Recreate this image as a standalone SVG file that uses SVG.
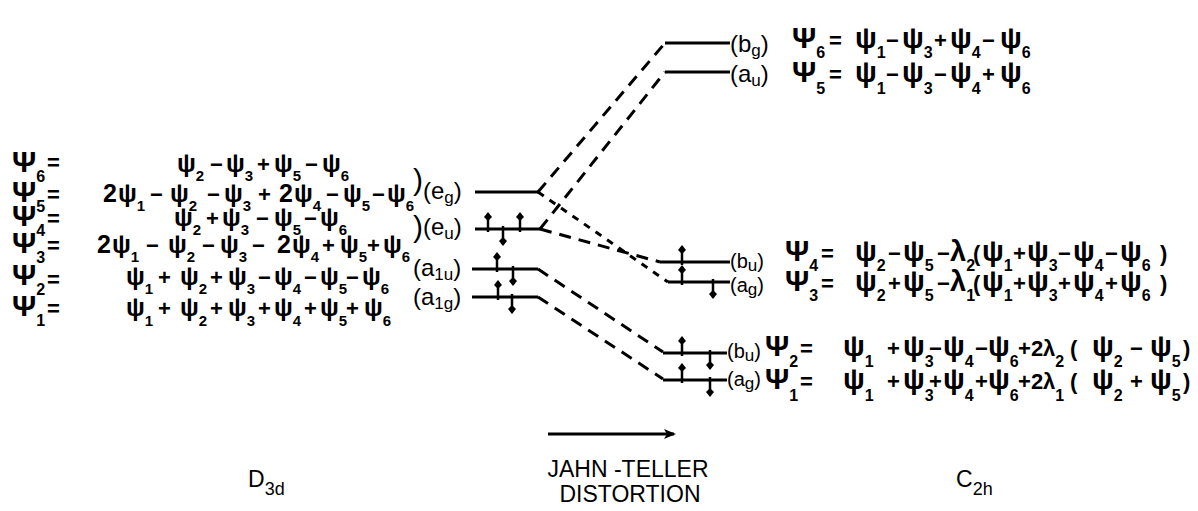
<svg xmlns="http://www.w3.org/2000/svg" width="1198" height="511" viewBox="0 0 1198 511">
<style>
text { font-family: "Liberation Sans", Arial, sans-serif; fill: #000; }
.eq { font-size: 25px; font-weight: bold; }
.eqR { font-size: 29px; font-weight: bold; }
.P { font-size: 30px; font-weight: bold; }
.s { font-size: 16px; font-weight: bold; }
.eq .s { font-size: 15px; }
.o { font-size: 22px; font-weight: bold; }
.lb { font-size: 24px; }
.lbs { font-size: 20px; }
.ls { font-size: 17px; }
.br { font-size: 30px; }
.cap { font-size: 23px; }
.level { stroke: #000; stroke-width: 3; fill: none; }
.dash { stroke: #000; stroke-width: 3; fill: none; stroke-dasharray: 12 8; }
.dot { stroke: #000; stroke-width: 3; fill: none; stroke-dasharray: 7 7; }
.stem { stroke: #000; stroke-width: 2.5; }
</style>
<defs>
  <g id="e-up"><line class="stem" x1="0" y1="-12" x2="0" y2="3"/><path d="M0,-17 L4,-12 L0,-8 L-4,-12Z"/></g>
  <g id="e-dn"><line class="stem" x1="0" y1="-3" x2="0" y2="12"/><path d="M0,8 L4,12 L0,17 L-4,12Z"/></g>
  <marker id="arrow" viewBox="0 0 12 10" refX="10" refY="5" markerWidth="12" markerHeight="10" markerUnits="userSpaceOnUse" orient="auto"><path d="M0,0 L12,5 L0,10 L3,5 Z"/></marker>
</defs>
<rect width="1198" height="511" fill="#fff"/>

<!-- D3d wavefunctions -->
<g id="d3d-functions">
  <text class="P" x="12" y="172">Ψ<tspan class="s" y="182">6</tspan><tspan class="o" x="47" y="170">=</tspan></text>
  <text class="P" x="12" y="202">Ψ<tspan class="s" y="212">5</tspan><tspan class="o" x="47" y="202">=</tspan></text>
  <text class="P" x="12" y="226">Ψ<tspan class="s" y="236">4</tspan><tspan class="o" x="47" y="226">=</tspan></text>
  <text class="P" x="12" y="253">Ψ<tspan class="s" y="263">3</tspan><tspan class="o" x="47" y="253">=</tspan></text>
  <text class="P" x="12" y="285">Ψ<tspan class="s" y="295">2</tspan><tspan class="o" x="47" y="287">=</tspan></text>
  <text class="P" x="12" y="316">Ψ<tspan class="s" y="326">1</tspan><tspan class="o" x="47" y="316">=</tspan></text>

  <text class="eq" y="172"><tspan x="177">ψ</tspan><tspan class="s" y="181">2</tspan><tspan class="o" x="210" y="172">−</tspan><tspan x="226">ψ</tspan><tspan class="s" y="181">3</tspan><tspan class="o" x="257" y="172">+</tspan><tspan x="274">ψ</tspan><tspan class="s" y="181">5</tspan><tspan class="o" x="305" y="172">−</tspan><tspan x="322">ψ</tspan><tspan class="s" y="181">6</tspan></text>
  <text class="eq" y="202"><tspan x="103">2</tspan><tspan x="118">ψ</tspan><tspan class="s" y="211">1</tspan><tspan class="o" x="150" y="202">−</tspan><tspan x="170">ψ</tspan><tspan class="s" y="211">2</tspan><tspan class="o" x="207" y="202">−</tspan><tspan x="224">ψ</tspan><tspan class="s" y="211">3</tspan><tspan class="o" x="258" y="202">+</tspan><tspan x="279">2</tspan><tspan x="294">ψ</tspan><tspan class="s" y="211">4</tspan><tspan class="o" x="326" y="202">−</tspan><tspan x="343">ψ</tspan><tspan class="s" y="211">5</tspan><tspan class="o" x="372" y="202">−</tspan><tspan x="387">ψ</tspan><tspan class="s" y="211">6</tspan></text>
  <text class="eq" y="226"><tspan x="174">ψ</tspan><tspan class="s" y="235">2</tspan><tspan class="o" x="206" y="226">+</tspan><tspan x="222">ψ</tspan><tspan class="s" y="235">3</tspan><tspan class="o" x="256" y="226">−</tspan><tspan x="274">ψ</tspan><tspan class="s" y="235">5</tspan><tspan class="o" x="304" y="226">−</tspan><tspan x="320">ψ</tspan><tspan class="s" y="235">6</tspan></text>
  <text class="eq" y="253"><tspan x="97">2</tspan><tspan x="112">ψ</tspan><tspan class="s" y="262">1</tspan><tspan class="o" x="146" y="253">−</tspan><tspan x="168">ψ</tspan><tspan class="s" y="262">2</tspan><tspan class="o" x="202" y="253">−</tspan><tspan x="220">ψ</tspan><tspan class="s" y="262">3</tspan><tspan class="o" x="252" y="253">−</tspan><tspan x="277">2</tspan><tspan x="292">ψ</tspan><tspan class="s" y="262">4</tspan><tspan class="o" x="322" y="253">+</tspan><tspan x="340">ψ</tspan><tspan class="s" y="262">5</tspan><tspan class="o" x="367" y="253">+</tspan><tspan x="383">ψ</tspan><tspan class="s" y="262">6</tspan></text>
  <text class="eq" y="285"><tspan x="126">ψ</tspan><tspan class="s" y="294">1</tspan><tspan class="o" x="158" y="285">+</tspan><tspan x="180">ψ</tspan><tspan class="s" y="294">2</tspan><tspan class="o" x="210" y="285">+</tspan><tspan x="228">ψ</tspan><tspan class="s" y="294">3</tspan><tspan class="o" x="258" y="285">−</tspan><tspan x="274">ψ</tspan><tspan class="s" y="294">4</tspan><tspan class="o" x="304" y="285">−</tspan><tspan x="320">ψ</tspan><tspan class="s" y="294">5</tspan><tspan class="o" x="346" y="285">−</tspan><tspan x="362">ψ</tspan><tspan class="s" y="294">6</tspan></text>
  <text class="eq" y="316"><tspan x="126">ψ</tspan><tspan class="s" y="326">1</tspan><tspan class="o" x="158" y="316">+</tspan><tspan x="180">ψ</tspan><tspan class="s" y="326">2</tspan><tspan class="o" x="210" y="316">+</tspan><tspan x="228">ψ</tspan><tspan class="s" y="326">3</tspan><tspan class="o" x="258" y="316">+</tspan><tspan x="274">ψ</tspan><tspan class="s" y="326">4</tspan><tspan class="o" x="304" y="316">+</tspan><tspan x="320">ψ</tspan><tspan class="s" y="326">5</tspan><tspan class="o" x="346" y="316">+</tspan><tspan x="364">ψ</tspan><tspan class="s" y="326">6</tspan></text>

  <text class="br" x="413" y="190">)</text>
  <text class="br" x="413" y="237">)</text>
</g>

<!-- D3d levels -->
<g id="level-eg">
  <text class="lb" x="423" y="199">(e<tspan class="ls" dy="4">g</tspan><tspan dy="-4">)</tspan></text>
  <path class="level" d="M475,192 H538"/>
</g>
<g id="level-eu">
  <text class="lb" x="423" y="235">(e<tspan class="ls" dy="4">u</tspan><tspan dy="-4">)</tspan></text>
  <path class="level" d="M475,229 H540"/>
  <use href="#e-up" x="488" y="229"/><use href="#e-dn" x="503" y="229"/><use href="#e-up" x="520" y="229"/>
</g>
<g id="level-a1u">
  <text class="lb" x="413" y="276">(a<tspan class="ls" dy="4">1u</tspan><tspan dy="-4">)</tspan></text>
  <path class="level" d="M472,269 H538"/>
  <use href="#e-up" x="497" y="269"/><use href="#e-dn" x="513" y="269"/>
</g>
<g id="level-a1g">
  <text class="lb" x="413" y="305">(a<tspan class="ls" dy="4">1g</tspan><tspan dy="-4">)</tspan></text>
  <path class="level" d="M472,297 H538"/>
  <use href="#e-up" x="498" y="297"/><use href="#e-dn" x="512" y="297"/>
</g>

<!-- C2h levels -->
<g id="level-bg">
  <path class="level" d="M665,43 H730"/>
  <text class="lb" x="730" y="52">(b<tspan class="ls" dy="4">g</tspan><tspan dy="-4">)</tspan></text>
  <text class="eqR" y="48"><tspan class="P" x="792">Ψ</tspan><tspan class="s" y="58">6</tspan><tspan class="o" x="829" y="48">=</tspan><tspan x="855">ψ</tspan><tspan class="s" y="58">1</tspan><tspan class="o" x="886" y="48">−</tspan><tspan x="902">ψ</tspan><tspan class="s" y="58">3</tspan><tspan class="o" x="934" y="48">+</tspan><tspan x="950">ψ</tspan><tspan class="s" y="58">4</tspan><tspan class="o" x="982" y="48">−</tspan><tspan x="1000">ψ</tspan><tspan class="s" y="58">6</tspan></text>
</g>
<g id="level-au">
  <path class="level" d="M665,72 H730"/>
  <text class="lb" x="730" y="82">(a<tspan class="ls" dy="4">u</tspan><tspan dy="-4">)</tspan></text>
  <text class="eqR" y="82"><tspan class="P" x="792">Ψ</tspan><tspan class="s" y="94">5</tspan><tspan class="o" x="829" y="82">=</tspan><tspan x="855">ψ</tspan><tspan class="s" y="94">1</tspan><tspan class="o" x="886" y="82">−</tspan><tspan x="902">ψ</tspan><tspan class="s" y="94">3</tspan><tspan class="o" x="934" y="82">−</tspan><tspan x="950">ψ</tspan><tspan class="s" y="94">4</tspan><tspan class="o" x="982" y="82">+</tspan><tspan x="1000">ψ</tspan><tspan class="s" y="94">6</tspan></text>
</g>
<g id="level-bu-upper">
  <path class="level" d="M660,262 H730"/>
  <use href="#e-up" x="682" y="262"/>
  <text class="lbs" x="730" y="268">(b<tspan class="ls" dy="3">u</tspan><tspan dy="-3">)</tspan></text>
  <text class="eqR" y="261"><tspan class="P" x="785">Ψ</tspan><tspan class="s" y="271">4</tspan><tspan class="o" x="821" y="261">=</tspan><tspan x="855">ψ</tspan><tspan class="s" y="271">2</tspan><tspan class="o" x="888" y="261">−</tspan><tspan x="903">ψ</tspan><tspan class="s" y="271">5</tspan><tspan class="o" x="937" y="261">−</tspan><tspan x="950">λ</tspan><tspan class="s" y="271">2</tspan><tspan class="o" x="973" y="261">(</tspan><tspan x="982">ψ</tspan><tspan class="s" y="271">1</tspan><tspan class="o" x="1013" y="261">+</tspan><tspan x="1027">ψ</tspan><tspan class="s" y="271">3</tspan><tspan class="o" x="1058" y="261">−</tspan><tspan x="1073">ψ</tspan><tspan class="s" y="271">4</tspan><tspan class="o" x="1105" y="261">−</tspan><tspan x="1120">ψ</tspan><tspan class="s" y="271">6</tspan><tspan class="o" x="1160" y="261">)</tspan></text>
</g>
<g id="level-ag-upper">
  <path class="level" d="M668,282 H730"/>
  <use href="#e-up" x="682" y="282"/><use href="#e-dn" x="713" y="282"/>
  <text class="lbs" x="730" y="292">(a<tspan class="ls" dy="3">g</tspan><tspan dy="-3">)</tspan></text>
  <text class="eqR" y="291"><tspan class="P" x="785">Ψ</tspan><tspan class="s" y="301">3</tspan><tspan class="o" x="821" y="291">=</tspan><tspan x="855">ψ</tspan><tspan class="s" y="301">2</tspan><tspan class="o" x="888" y="291">+</tspan><tspan x="903">ψ</tspan><tspan class="s" y="301">5</tspan><tspan class="o" x="937" y="291">−</tspan><tspan x="950">λ</tspan><tspan class="s" y="301">1</tspan><tspan class="o" x="973" y="291">(</tspan><tspan x="982">ψ</tspan><tspan class="s" y="301">1</tspan><tspan class="o" x="1013" y="291">+</tspan><tspan x="1027">ψ</tspan><tspan class="s" y="301">3</tspan><tspan class="o" x="1058" y="291">+</tspan><tspan x="1073">ψ</tspan><tspan class="s" y="301">4</tspan><tspan class="o" x="1105" y="291">+</tspan><tspan x="1120">ψ</tspan><tspan class="s" y="301">6</tspan><tspan class="o" x="1160" y="291">)</tspan></text>
</g>
<g id="level-bu-lower">
  <path class="level" d="M663,353 H727"/>
  <use href="#e-up" x="682" y="353"/><use href="#e-dn" x="710" y="353"/>
  <text class="lbs" x="727" y="358">(b<tspan class="ls" dy="3">u</tspan><tspan dy="-3">)</tspan></text>
  <text class="eqR" y="356"><tspan class="P" x="765">Ψ</tspan><tspan class="s" y="367">2</tspan><tspan class="o" x="800" y="356">=</tspan><tspan x="843">ψ</tspan><tspan class="s" y="367">1</tspan><tspan class="o" x="887" y="356">+</tspan><tspan x="903">ψ</tspan><tspan class="s" y="367">3</tspan><tspan class="o" x="929" y="356">−</tspan><tspan x="943">ψ</tspan><tspan class="s" y="367">4</tspan><tspan class="o" x="975" y="356">−</tspan><tspan x="988">ψ</tspan><tspan class="s" y="367">6</tspan><tspan class="o" x="1018" y="356">+</tspan><tspan class="o" x="1031">2</tspan><tspan class="o" x="1043">λ</tspan><tspan class="s" y="367">2</tspan><tspan class="o" x="1070" y="356">(</tspan><tspan x="1092">ψ</tspan><tspan class="s" y="367">2</tspan><tspan class="o" x="1130" y="356">−</tspan><tspan x="1150">ψ</tspan><tspan class="s" y="367">5</tspan><tspan class="o" x="1183" y="356">)</tspan></text>
</g>
<g id="level-ag-lower">
  <path class="level" d="M663,380 H727"/>
  <use href="#e-up" x="682" y="380"/><use href="#e-dn" x="710" y="380"/>
  <text class="lbs" x="727" y="386">(a<tspan class="ls" dy="3">g</tspan><tspan dy="-3">)</tspan></text>
  <text class="eqR" y="389"><tspan class="P" x="765">Ψ</tspan><tspan class="s" y="401">1</tspan><tspan class="o" x="800" y="389">=</tspan><tspan x="843">ψ</tspan><tspan class="s" y="401">1</tspan><tspan class="o" x="887" y="389">+</tspan><tspan x="903">ψ</tspan><tspan class="s" y="401">3</tspan><tspan class="o" x="929" y="389">+</tspan><tspan x="943">ψ</tspan><tspan class="s" y="401">4</tspan><tspan class="o" x="975" y="389">+</tspan><tspan x="988">ψ</tspan><tspan class="s" y="401">6</tspan><tspan class="o" x="1018" y="389">+</tspan><tspan class="o" x="1031">2</tspan><tspan class="o" x="1043">λ</tspan><tspan class="s" y="401">1</tspan><tspan class="o" x="1070" y="389">(</tspan><tspan x="1092">ψ</tspan><tspan class="s" y="401">2</tspan><tspan class="o" x="1130" y="389">+</tspan><tspan x="1150">ψ</tspan><tspan class="s" y="401">5</tspan><tspan class="o" x="1183" y="389">)</tspan></text>
</g>

<!-- correlation connectors -->
<g id="connectors">
  <path class="dash" d="M538,192 L665,43"/>
  <path class="dash" d="M540,229 L665,72"/>
  <path class="dot" d="M538,192 L668,282"/>
  <path class="dash" d="M540,229 L660,262"/>
  <path class="dash" d="M538,269 L663,352"/>
  <path class="dash" d="M538,297 L663,379"/>
</g>

<!-- captions -->
<g id="captions">
  <line x1="548" y1="434" x2="674" y2="434" stroke="#000" stroke-width="3" marker-end="url(#arrow)"/>
  <text class="cap" x="248" y="487">D<tspan font-size="18" dy="8">3d</tspan></text>
  <text class="cap" x="628" y="477" text-anchor="middle">JAHN -TELLER</text>
  <text class="cap" x="630" y="502" text-anchor="middle">DISTORTION</text>
  <text class="cap" x="956" y="487">C<tspan font-size="18" dy="8">2h</tspan></text>
</g>
</svg>
